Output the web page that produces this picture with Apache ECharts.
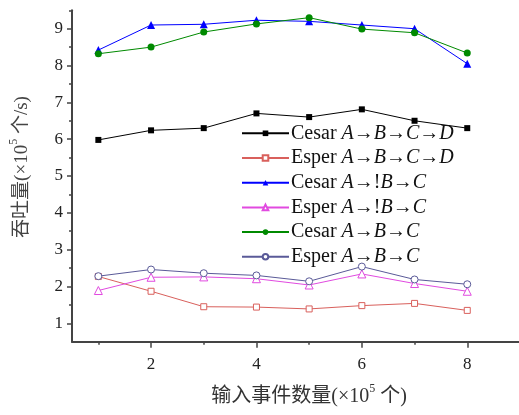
<!DOCTYPE html>
<html><head><meta charset="utf-8">
<script src="https://cdn.jsdelivr.net/npm/echarts@6/dist/echarts.min.js"></script>
<style>html,body{margin:0;padding:0;background:#fff}#c{width:519px;height:415px}</style>
</head><body><div id="c"></div>
<script>
// ---- data ----
const xValues = [1, 2, 3, 4, 5, 6, 7, 8];
const cesarABCD = [5.98, 6.24, 6.30, 6.70, 6.60, 6.81, 6.50, 6.30];
const esperABCD = [2.27, 1.87, 1.45, 1.44, 1.39, 1.48, 1.54, 1.35];
const cesarNotB = [8.42, 9.10, 9.12, 9.23, 9.20, 9.10, 9.00, 8.05];
const esperNotB = [1.89, 2.25, 2.26, 2.21, 2.04, 2.34, 2.08, 1.87];
const cesarABC  = [8.32, 8.50, 8.91, 9.13, 9.30, 8.99, 8.89, 8.34];
const esperABC  = [2.28, 2.46, 2.36, 2.30, 2.14, 2.54, 2.19, 2.06];
const seriesNames = ['Cesar A→B→C→D', 'Esper A→B→C→D', 'Cesar A→!B→C', 'Esper A→!B→C', 'Cesar A→B→C', 'Esper A→B→C'];
const xMajorTicks = [2, 4, 6, 8];
const xMinorTicks = [1, 3, 5, 7];
const yMajorTicks = [1, 2, 3, 4, 5, 6, 7, 8, 9];
const yMinorTicks = [1.5, 2.5, 3.5, 4.5, 5.5, 6.5, 7.5, 8.5, 9.5];
const xAxisTitle = '{a|输入事件数量(×10}{s|5}{a| 个)}';
const yAxisTitle = '{a|吞吐量(×10}{s|5}{a| 个/s)}';

const serif = '"Liberation Serif", "Times New Roman", serif';
const cjk = '"Liberation Serif", "Noto Sans CJK SC", serif';

function pairs(ys) { return xValues.map((x, i) => [x, ys[i]]); }

const styles = [
  { data: cesarABCD, symbol: 'rect', size: 6, color: '#000000', hollow: false },
  { data: esperABCD, symbol: 'rect', size: 6, color: '#d9605c', hollow: true },
  { data: cesarNotB, symbol: 'triangle', size: 8, color: '#0000ff', hollow: false },
  { data: esperNotB, symbol: 'triangle', size: 8, color: '#e14ae0', hollow: true },
  { data: cesarABC, symbol: 'circle', size: 7, color: '#008a00', hollow: false },
  { data: esperABC, symbol: 'circle', size: 7, color: '#5a5a98', hollow: true }
];

const series = styles.map((s, i) => ({
  name: seriesNames[i],
  type: 'line',
  xAxisIndex: 0, yAxisIndex: 0,
  data: pairs(s.data),
  symbol: s.symbol,
  symbolSize: s.size,
  lineStyle: { color: s.color, width: 1 },
  itemStyle: s.hollow ? { color: '#ffffff', borderColor: s.color, borderWidth: 1 } : { color: s.color, borderWidth: 0 },
  emphasis: { disabled: true },
  z: 3 + i
}));

function legendFmt(name) {
  const k = name.indexOf(' ');
  const head = name.slice(0, k + 1);
  const tail = name.slice(k + 1).replace(/([A-D])/g, '{i|$1}');
  return head + tail;
}

const nameRich = (size, col) => ({
  a: { fontFamily: cjk, fontSize: size, color: col, fill: col, lineHeight: 28 },
  s: { fontFamily: serif, fontSize: 12, color: col, fill: col, verticalAlign: 'top', lineHeight: 12 }
});

const chart = echarts.init(document.getElementById('c'), null, { renderer: 'canvas' });
chart.setOption({
  animation: false,
  backgroundColor: '#ffffff',
  grid: { left: 72, top: 10.3, width: 474.3, height: 331.4, containLabel: false, outerBoundsMode: 'none' },
  legend: {
    orient: 'vertical', left: 241, top: 123.3, padding: 0,
    itemWidth: 47, itemHeight: 7, itemGap: 4.7,
    data: seriesNames,
    formatter: legendFmt,
    textStyle: {
      fontFamily: serif, fontSize: 20, color: '#111', lineHeight: 20, padding: [0, 0, 0, -3],
      rich: { i: { fontFamily: serif, fontStyle: 'italic', fontSize: 20, color: '#111', lineHeight: 20 } }
    }
  },
  xAxis: [
    {
      type: 'value', min: 0.5, max: 9.5, gridIndex: 0, position: 'bottom',
      name: xAxisTitle, nameLocation: 'middle', nameGap: 41,
      nameTextStyle: { fontFamily: cjk, fontSize: 20, color: '#333', lineHeight: 28, rich: nameRich(20, '#333') },
      axisLine: { show: true, lineStyle: { color: '#444', width: 2 } },
      axisTick: { show: true, customValues: xMajorTicks, length: 6, lineStyle: { color: '#444', width: 1.5 } },
      axisLabel: { show: true, customValues: xMajorTicks, margin: 14, fontFamily: serif, fontSize: 17, color: '#222' },
      splitLine: { show: false }
    },
    {
      type: 'value', min: 0.5, max: 9.5, gridIndex: 0, position: 'bottom', offset: 0,
      axisLine: { show: false },
      axisTick: { show: true, customValues: xMinorTicks, length: 3, lineStyle: { color: '#444', width: 1.5 } },
      axisLabel: { show: false },
      splitLine: { show: false }
    }
  ],
  yAxis: [
    {
      type: 'value', min: 0.5, max: 9.5, gridIndex: 0, position: 'left',
      axisLine: { show: true, lineStyle: { color: '#444', width: 2 } },
      axisTick: { show: true, customValues: yMajorTicks, length: 5, lineStyle: { color: '#444', width: 1.5 } },
      axisLabel: { show: true, customValues: yMajorTicks, margin: 9, fontFamily: serif, fontSize: 17, color: '#222' },
      splitLine: { show: false }
    },
    {
      type: 'value', min: 0.5, max: 9.5, gridIndex: 0, position: 'left', offset: 0,
      axisLine: { show: false },
      axisTick: { show: true, customValues: yMinorTicks, length: 3, lineStyle: { color: '#444', width: 1.5 } },
      axisLabel: { show: false },
      splitLine: { show: false }
    }
  ],
  graphic: [
    {
      type: 'text', x: 22, y: 167, rotation: Math.PI / 2,
      style: {
        text: yAxisTitle, fontFamily: cjk, fontSize: 19, fill: '#444', lineHeight: 28,
        align: 'center', verticalAlign: 'middle',
        rich: nameRich(19, '#444')
      }
    }
  ],
  series: series
});
</script>
</body></html>
